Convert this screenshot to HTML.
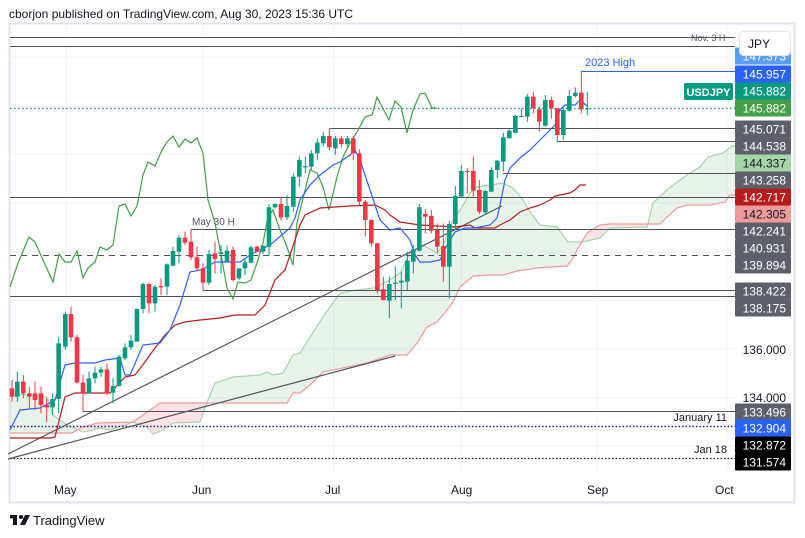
<!DOCTYPE html>
<html><head><meta charset="utf-8"><style>
html,body{margin:0;padding:0;background:#fff;width:805px;height:538px;overflow:hidden;font-family:"Liberation Sans",sans-serif}
svg{position:absolute;left:0;top:0}
</style></head><body>
<svg id="s" width="805" height="538" xmlns="http://www.w3.org/2000/svg" font-family="Liberation Sans, sans-serif">
<text x="9" y="18" font-size="12" fill="#131722">cborjon published on TradingView.com, Aug 30, 2023 15:36 UTC</text>
<rect x="9.5" y="23.5" width="785" height="479" fill="none" stroke="#e0e3eb" stroke-width="2"/>
<g stroke="#f0f3fa" stroke-width="1">
<line x1="66" y1="24" x2="66" y2="474"/><line x1="203" y1="24" x2="203" y2="474"/><line x1="334" y1="24" x2="334" y2="474"/><line x1="461" y1="24" x2="461" y2="474"/><line x1="597" y1="24" x2="597" y2="474"/><line x1="727" y1="24" x2="727" y2="474"/>
<line x1="10" y1="349" x2="735" y2="349"/><line x1="10" y1="398" x2="735" y2="398"/><line x1="10" y1="300" x2="735" y2="300"/><line x1="10" y1="252" x2="735" y2="252"/><line x1="10" y1="203" x2="735" y2="203"/><line x1="10" y1="154" x2="735" y2="154"/><line x1="10" y1="106" x2="735" y2="106"/><line x1="10" y1="57" x2="735" y2="57"/><line x1="10" y1="446" x2="735" y2="446"/>
</g>
<g id="cloud"></g>
<g id="lines"></g>
<g id="candles"></g>
<g id="ann"></g>
<g font-size="12" fill="#131722">
<text x="54" y="494">May</text><text x="192" y="494">Jun</text><text x="325" y="494">Jul</text><text x="451" y="494">Aug</text><text x="587" y="494">Sep</text><text x="715" y="494">Oct</text>
</g>
<g transform="translate(10,515)"><rect x="0" y="0" width="7" height="3.5" fill="#131722"/><rect x="3" y="0" width="4" height="10" fill="#131722"/><circle cx="11" cy="2" r="2" fill="#131722"/><path d="M15 0 L20 0 L15 10 L10 10 Z" fill="#131722"/></g>
<text x="33" y="525" font-size="13" fill="#131722">TradingView</text>
</svg>
<script>
const NS="http://www.w3.org/2000/svg";
function el(p,t,a,txt){const e=document.createElementNS(NS,t);for(const k in a)e.setAttribute(k,a[k]);if(txt!==undefined)e.textContent=txt;document.getElementById(p).appendChild(e);return e;}
function pts(a){return a.map(p=>p[0]+","+p[1]).join(" ");}
const A=[[10,393],[47,397],[53,415],[67,425],[83,432],[100,428],[110,430],[133,422],[147,427],[153,434],[163,430],[173,423],[200,422],[208,400],[215,383],[233,377],[260,375],[267,372],[273,375],[283,373],[293,355],[300,353],[323,317],[340,293],[357,290],[373,288],[390,280],[400,273],[410,253],[423,245],[437,253],[443,245],[453,220],[462,207],[470,193],[477,187],[490,185],[503,183],[513,188],[523,200],[530,212],[540,225],[557,227],[568,242],[583,242],[600,238],[610,228],[647,227],[653,203],[667,190],[680,180],[690,173],[700,167],[708,157],[723,153],[732,146],[735,146]];
const B=[[10,433],[72,433],[80,428],[97,423],[133,422],[160,403],[287,403],[293,393],[300,393],[310,385],[323,372],[367,363],[390,355],[407,355],[417,343],[427,327],[437,322],[447,310],[453,302],[460,287],[473,276],[490,275],[503,275],[517,271],[537,268],[550,267],[567,266],[572,260],[577,250],[587,233],[600,225],[610,224],[660,224],[667,217],[677,208],[687,205],[710,205],[725,202],[730,195],[735,195]];
function interp(L,x){for(let i=0;i<L.length-1;i++){if(x>=L[i][0]&&x<=L[i+1][0]){const t=(x-L[i][0])/((L[i+1][0]-L[i][0])||1);return L[i][1]+t*(L[i+1][1]-L[i][1]);}}return L[L.length-1][1];}
for(let x=10;x<735;x+=1){const a0=interp(A,x),a1=interp(A,x+1),b0=interp(B,x),b1=interp(B,x+1);
 const green=(a0+a1)<(b0+b1);
 el("cloud","polygon",{points:`${x},${a0} ${x+1},${a1} ${x+1},${b1} ${x},${b0}`,fill:green?"rgba(67,160,71,0.12)":"rgba(242,54,69,0.14)",stroke:"none"});}
el("cloud","polyline",{points:pts(A),fill:"none",stroke:"#a5d6a7","stroke-width":1.2});
el("cloud","polyline",{points:pts(B),fill:"none",stroke:"#ef9a9a","stroke-width":1.2});
const H=[[10,37,735],[10,46,735],[330,128,735],[557,141,735],[503,173,735],[10,197,735],[191,229,735],[203,290,735],[10,296,735],[83,411,735]];
H.forEach(h=>el("lines","line",{x1:h[0],y1:h[1]+.5,x2:h[2],y2:h[1]+.5,stroke:"#50535e","stroke-width":1}));
el("lines","line",{x1:10,y1:255.5,x2:735,y2:255.5,stroke:"#50535e","stroke-dasharray":"6,5"});
el("lines","line",{x1:10,y1:426.5,x2:735,y2:426.5,stroke:"#1a237e","stroke-dasharray":"1.5,2","stroke-width":1.5});
el("lines","line",{x1:10,y1:458.5,x2:735,y2:458.5,stroke:"#131722","stroke-dasharray":"1.5,2","stroke-width":1.2});
el("lines","line",{x1:8,y1:454,x2:502,y2:206,stroke:"#50535e","stroke-width":1.2});
el("lines","line",{x1:8,y1:459,x2:395,y2:356,stroke:"#50535e","stroke-width":1.2});
el("lines","line",{x1:581,y1:71.5,x2:735,y2:71.5,stroke:"#2962ff","stroke-width":1});
const blue=[[10,430],[20,410],[40,408],[55,400],[65,365],[75,363],[95,363],[105,360],[120,358],[125,375],[130,375],[143,345],[160,343],[170,330],[180,305],[190,272],[200,270],[205,268],[215,262],[240,262],[250,255],[270,245],[290,228],[295,218],[300,200],[310,185],[320,175],[333,165],[340,162],[350,155],[355,150],[360,160],[370,190],[375,205],[380,220],[390,230],[400,228],[410,240],[415,255],[420,262],[430,262],[440,260],[447,245],[455,232],[465,228],[475,228],[490,225],[497,218],[500,205],[505,180],[510,168],[520,158],[530,150],[540,140],[545,135],[555,125],[560,110],[565,105],[575,105],[580,100],[587,106]];
const red=[[10,438],[50,438],[55,437],[65,397],[75,393],[110,393],[125,377],[135,375],[145,362],[155,348],[165,335],[175,325],[185,322],[200,320],[220,318],[235,315],[255,315],[265,305],[275,280],[285,270],[295,240],[300,225],[305,215],[320,208],[350,206],[375,205],[385,210],[390,215],[400,222],[420,225],[455,227],[470,225],[475,228],[495,228],[500,225],[510,220],[520,212],[530,208],[540,205],[550,200],[555,196],[560,195],[570,193],[575,190],[580,185],[586,185]];
const grn=[[10,287],[18,263],[29,237],[35,242],[43,260],[53,282],[59,254],[65,262],[71,262],[77,251],[83,278],[88,268],[95,262],[100,247],[107,250],[113,245],[119,206],[125,204],[131,216],[137,206],[143,175],[148,162],[155,166],[162,150],[167,142],[173,136],[179,147],[185,139],[191,143],[197,138],[203,153],[208,200],[215,223],[222,260],[227,288],[233,299],[238,282],[245,283],[251,280],[257,263],[263,243],[268,217],[273,210],[280,230],[287,247],[293,265],[297,223],[310,170],[317,173],[323,187],[329,210],[337,177],[343,157],[350,143],[357,132],[365,117],[372,115],[377,97],[389,120],[395,101],[401,107],[407,133],[413,110],[420,94],[425,93],[432,108],[437,108]];
el("lines","polyline",{points:pts(grn),fill:"none",stroke:"#43a047","stroke-width":1.2});
el("lines","polyline",{points:pts(red),fill:"none",stroke:"#b71c1c","stroke-width":1.2});
el("lines","polyline",{points:pts(blue),fill:"none",stroke:"#2962ff","stroke-width":1.2});
el("lines","line",{x1:10,y1:108.5,x2:735,y2:108.5,stroke:"#089981","stroke-dasharray":"1.5,2.5","stroke-width":1.2});
const c3=[[36,865,890,840,905,'r'],[52,845,890,815,905,'g'],[70,845,880,825,895,'r'],[88,880,890,860,925,'r'],[105,880,900,845,930,'r'],[123,880,915,860,940,'r'],[140,915,922,895,965,'r'],[158,897,922,880,945,'g'],[176,730,897,710,940,'g'],[196,642,740,635,750,'g'],[213,642,712,620,725,'r'],[231,712,848,705,850,'r'],[249,848,880,825,935,'r'],[267,835,880,815,880,'g'],[285,818,835,800,850,'g'],[303,808,818,800,830,'g'],[321,808,880,790,885,'r'],[339,858,878,835,910,'g'],[357,770,858,765,860,'g'],[375,742,775,730,780,'g'],[393,722,742,705,750,'g'],[411,627,725,625,725,'g'],[429,552,627,548,640,'g'],[447,552,610,548,640,'r'],[465,560,610,555,635,'g'],[483,558,562,535,585,'r'],[501,493,560,490,585,'g'],[519,453,497,440,500,'g'],[537,413,455,405,490,'g'],[555,413,428,395,435,'r'],[573,425,472,388,480,'r'],[591,472,505,440,512,'r'],[609,505,548,490,570,'r'],[627,462,548,450,555,'g'],[645,460,477,425,520,'r'],[663,457,462,435,520,'g'],[681,452,485,437,485,'g'],[699,450,540,440,545,'r'],[717,505,535,505,540,'g'],[735,487,505,475,525,'g'],[753,442,488,437,490,'g'],[771,440,455,437,455,'r'],[789,437,455,437,462,'g'],[807,322,440,312,467,'g'],[825,312,322,310,325,'g'],[843,312,352,292,362,'r'],[861,318,352,285,360,'g']];
const c4=[[10,350,440,340,455,'g'],[28,300,350,290,380,'g'],[46,318,322,290,340,'g'],[64,280,320,270,330,'g'],[82,248,280,235,300,'g'],[100,228,250,215,260,'g'],[118,228,262,205,270,'r'],[136,235,265,228,285,'g'],[154,235,252,228,262,'r'],[172,235,252,228,262,'g'],[190,235,280,228,300,'r'],[208,280,425,268,435,'r'],[226,425,480,420,530,'r'],[244,480,550,478,560,'r'],[262,550,690,548,700,'r'],[280,688,720,650,722,'r'],[298,672,722,650,775,'g'],[316,668,672,620,720,'g'],[334,662,668,635,745,'g'],[352,602,665,575,690,'g'],[370,568,605,555,640,'g'],[388,442,572,432,575,'g'],[406,462,470,447,520,'r'],[424,468,512,450,520,'r'],[442,510,560,490,580,'r'],[460,558,620,490,665,'r'],[478,492,620,482,715,'g'],[496,408,492,378,510,'g'],[514,333,410,315,410,'g'],[532,333,336,325,400,'r'],[550,333,392,290,410,'r'],[568,390,455,360,462,'r'],[586,393,457,390,465,'g'],[604,330,395,322,395,'g'],[622,302,330,300,355,'g'],[640,232,305,218,335,'g'],[658,212,235,208,235,'g'],[676,168,218,165,220,'g'],[694,168,170,145,170,'g'],[712,110,170,102,185,'g'],[730,110,145,95,160,'r'],[748,148,185,140,215,'r'],[766,120,197,105,200,'g'],[784,120,145,110,175,'r'],[802,145,225,145,245,'r'],[820,150,225,145,240,'g'],[838,108,152,90,155,'g'],[856,98,108,82,112,'g'],[874,98,148,35,160,'r'],[892,145,148,95,165,'g']];
function cand(x,bt,bb,wt,wb,c){const col=c=='g'?"#089981":"#f23645";
 el("candles","line",{x1:x,y1:wt,x2:x,y2:wb,stroke:col,"stroke-width":1});
 el("candles","rect",{x:x-2.3,y:bt,width:4.6,height:Math.max(1,bb-bt),fill:col});}
c3.forEach(c=>cand(c[0]/3,c[1]/3+100,c[2]/3+100,c[3]/3+100,c[4]/3+100,c[5]));
c4.forEach(c=>cand(290+c[0]/3,60+c[1]/3,60+c[2]/3,60+c[3]/3,60+c[4]/3,c[5]));
el("ann","text",{x:585,y:66,"font-size":11,fill:"#2962ff"},"2023 High");
el("ann","text",{x:192,y:225,"font-size":10,fill:"#50535e"},"May 30 H");
el("ann","text",{x:691,y:41,"font-size":9,fill:"#50535e"},"Nov. 3 H");
el("ann","text",{x:727,y:421,"font-size":11,fill:"#131722","text-anchor":"end"},"January 11");
el("ann","text",{x:727,y:453,"font-size":11,fill:"#131722","text-anchor":"end"},"Jan 18");
const L=[[56,"147.373","#5b9cf6","#fff"],[74,"145.957","#2962ff","#fff"],[91,"145.882","#089981","#fff"],[108,"145.882","#43a047","#fff"],[129,"145.071","#5d606b","#fff"],[146,"144.538","#5d606b","#fff"],[163,"144.337","#a5d6a7","#131722"],[180,"143.258","#5d606b","#fff"],[197,"142.717","#b71c1c","#fff"],[214,"142.305","#ef9a9a","#131722"],[231,"142.241","#5d606b","#fff"],[248,"140.931","#5d606b","#fff"],[265,"139.894","#5d606b","#fff"],[291,"138.422","#5d606b","#fff"],[308,"138.175","#5d606b","#fff"],[412,"133.496","#5d606b","#fff"],[428,"132.904","#2962ff","#fff"],[445,"132.872","#000","#fff"],[462,"131.574","#000","#fff"]];
L.forEach(l=>{el("ann","rect",{x:735,y:l[0]-8.5,width:56,height:17,fill:l[2],rx:1});el("ann","text",{x:786,y:l[0]+4.5,"font-size":12,fill:l[3],"text-anchor":"end"},l[1]);});
el("ann","text",{x:786,y:354,"font-size":12,fill:"#131722","text-anchor":"end"},"136.000");
el("ann","text",{x:786,y:402,"font-size":12,fill:"#131722","text-anchor":"end"},"134.000");
el("ann","rect",{x:684,y:83,width:49,height:17,fill:"#089981",rx:2});
el("ann","text",{x:708.5,y:96,"font-size":11,"font-weight":"bold",fill:"#fff","text-anchor":"middle"},"USDJPY");
el("ann","rect",{x:739.5,y:31.5,width:51,height:24,fill:"#fff",stroke:"#e0e3eb",rx:4});
el("ann","text",{x:748,y:48,"font-size":12,fill:"#131722"},"JPY");
</script>
</body></html>
